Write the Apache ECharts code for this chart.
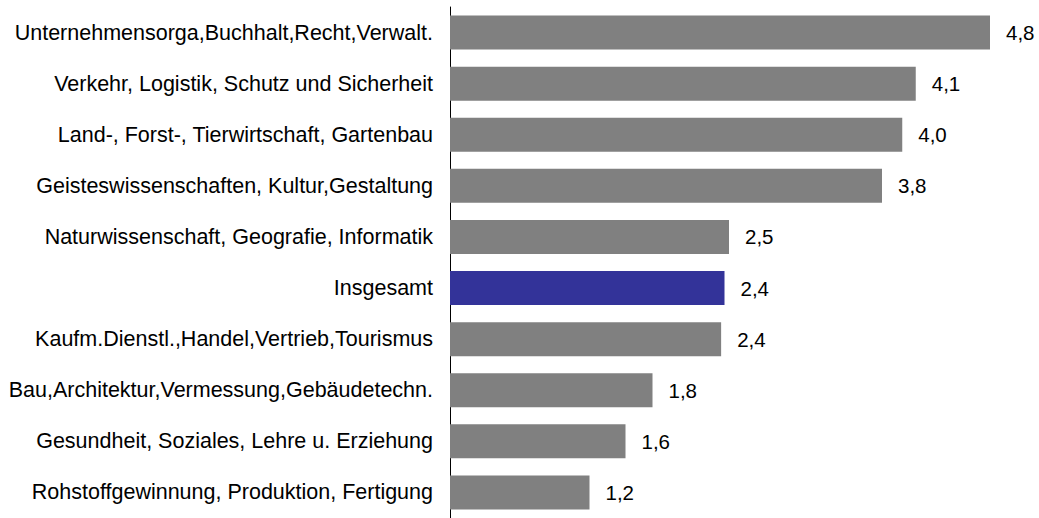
<!DOCTYPE html>
<html>
<head>
<meta charset="utf-8">
<script src="https://cdn.jsdelivr.net/npm/echarts@6/dist/echarts.min.js"></script>
<style>
  html, body { margin: 0; padding: 0; background: #fff; }
  #chart { width: 1039px; height: 518px; }
</style>
</head>
<body>
<div id="chart"></div>
<script>
const categories = [
  "Unternehmensorga,Buchhalt,Recht,Verwalt.",
  "Verkehr, Logistik, Schutz und Sicherheit",
  "Land-, Forst-, Tierwirtschaft, Gartenbau",
  "Geisteswissenschaften, Kultur,Gestaltung",
  "Naturwissenschaft, Geografie, Informatik",
  "Insgesamt",
  "Kaufm.Dienstl.,Handel,Vertrieb,Tourismus",
  "Bau,Architektur,Vermessung,Gebäudetechn.",
  "Gesundheit, Soziales, Lehre u. Erziehung",
  "Rohstoffgewinnung, Produktion, Fertigung"
];
const values = [4.80, 4.14, 4.02, 3.84, 2.48, 2.44, 2.41, 1.80, 1.56, 1.24];
const highlight = "Insgesamt";

const chart = echarts.init(document.getElementById("chart"), null, { renderer: "svg" });

const option = {
  animation: false,
  grid: { left: 450, top: 7, width: 540, height: 517 },
  xAxis: {
    type: "value",
    min: 0,
    max: 4.8,
    show: false
  },
  yAxis: {
    type: "category",
    data: categories,
    inverse: true,
    axisLine: { show: true, lineStyle: { color: "#000", width: 1 } },
    axisTick: { show: false },
    axisLabel: {
      color: "#000",
      fontSize: 21.5,
      fontFamily: "Liberation Sans",
      margin: 17
    }
  },
  series: [
    {
      type: "bar",
      barWidth: 34,
      data: values.map((v, i) => ({
        value: v,
        itemStyle: { color: categories[i] === highlight ? "#333399" : "#808080" }
      })),
      label: {
        show: true,
        position: "right",
        distance: 16,
        color: "#000",
        fontSize: 20.5,
        fontFamily: "Liberation Sans",
        formatter: p => p.value.toFixed(1).replace(".", ",")
      }
    }
  ]
};

chart.setOption(option);
</script>
</body>
</html>
